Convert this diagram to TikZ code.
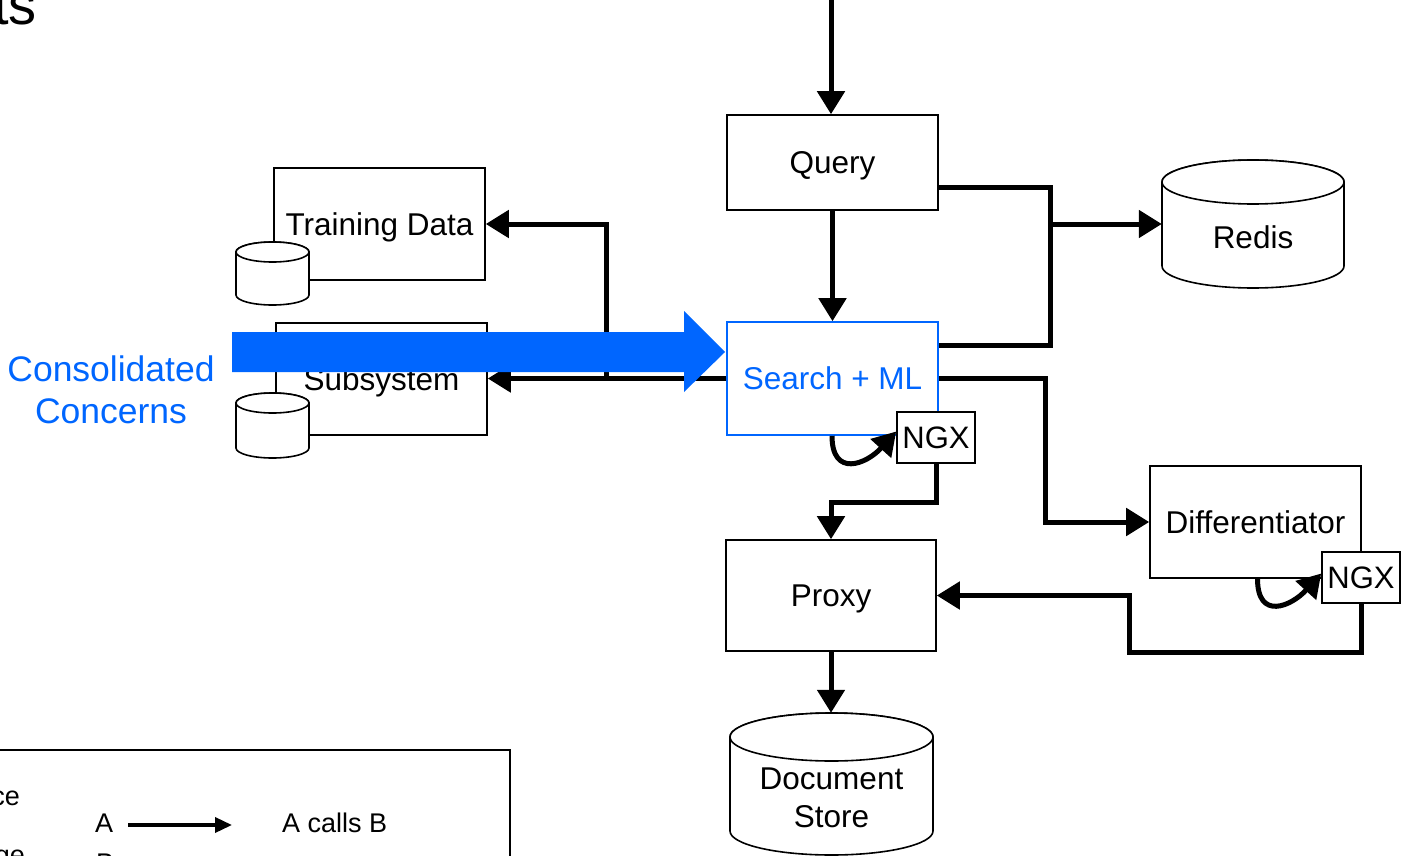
\documentclass[tikz,border=0pt]{standalone}
\usepackage{fontspec}
\setmainfont{Liberation Sans}
\usetikzlibrary{arrows.meta,calc}
\definecolor{accent}{RGB}{0,102,255}
\newcommand\fsz[2]{\fontsize{#1pt}{#2pt}\selectfont}
% storage cylinder: centre x, top y, bottom y, x radius, y radius (y measured downwards)
\newcommand\storecyl[5]{%
  \filldraw[cylbody] (#1-#4,-#2-#5) -- (#1-#4,-#3+#5)
    arc[start angle=180,end angle=360,x radius=#4,y radius=#5]
    -- (#1+#4,-#2-#5)
    arc[start angle=0,end angle=180,x radius=#4,y radius=#5] -- cycle;
  \draw[cylbody] (#1,-#2-#5) ellipse[x radius=#4,y radius=#5];}

\begin{document}
\begin{tikzpicture}[x=1pt,y=1pt,
  box/.style={draw,line width=1.6pt,fill=white,inner sep=0pt,text depth=0pt,font=\fsz{31.5}{38}},
  tag/.style={box,minimum width=78pt,minimum height=51pt,font=\fsz{31}{37}},
  conn/.style={line width=5pt,-{Triangle[length=23pt,width=27pt]}},
  wire/.style={line width=5pt},
  cylbody/.style={line width=1.6pt,fill=white},
  txt/.style={inner sep=0pt,font=\fsz{31.5}{38}},
  legtxt/.style={inner sep=0pt,font=\fsz{27}{32}},
  anchorbox/.style={inner sep=0pt,draw=none}]
\useasboundingbox (0,0) rectangle (1402,-856);
\clip (0,0) rectangle (1402,-856);

% title (partly outside the page)
\node[anchor=base west,inner sep=0pt,font=\fsz{56}{62}] (ttl) at (-7,-25) {ts};

% services
\node[box,minimum width=211pt,minimum height=95pt] (query) at (832.5,-162.5) {Query};
\node[box,draw=accent,text=accent,minimum width=211pt,minimum height=113pt] (search) at (832.5,-378.5) {Search + ML};
\node[box,minimum width=211pt,minimum height=112pt] (train) at (379.5,-224) {Training Data};
\node[box,minimum width=211pt,minimum height=112pt] (subsys) at (381.5,-379) {Subsystem};
\node[box,minimum width=210pt,minimum height=111pt] (proxy) at (831,-595.5) {Proxy};
\node[box,minimum width=211pt,minimum height=112pt] (diff) at (1255.5,-522) {Differentiator};
\node[tag] (ngxa) at (936,-437.5) {NGX};
\node[tag] (ngxb) at (1361,-577.5) {NGX};

% data stores
\storecyl{1253}{160}{288}{91}{22}
\node[anchorbox,minimum width=182pt,minimum height=128pt] (redis) at (1253,-224) {};
\node[txt] (redislbl) at (1253,-237) {Redis};
\storecyl{831.5}{713}{855}{101.5}{24}
\node[anchorbox,minimum width=203pt,minimum height=142pt] (docs) at (831.5,-784) {};
\node[txt,align=center] (docslbl) at (831.5,-798) {Document\\Store};
\storecyl{272.5}{242}{305}{36.5}{10}
\storecyl{272.5}{393}{458}{36.5}{10}

% calls
\coordinate (src) at (831,0);
\draw[conn] (src) -- (src |- query.north);
\draw[conn] (query.south) -- (search.north);
\coordinate (jr) at (1050,-224);
\draw[conn] ([yshift=-24.5pt]query.east) -| (jr) -- (redis.west);
\draw[wire] ([yshift=33.5pt]search.east) -| (jr);
\draw[conn] (search.west) -- (search.west -| subsys.east);
\coordinate (jt) at (606,-378.5);
\draw[conn] (jt) |- (train.east);
\coordinate (jd) at (1045,-522);
\draw[conn] (search.east) -| (jd) -- (diff.west);
\draw[conn] ([xshift=-0.5pt]search.south) .. controls +(0,-42) and +(-30,-33) .. ([yshift=6pt]ngxa.west);
\coordinate (jp) at (831,-502);
\draw[conn] (ngxa.south) |- (jp) -- (proxy.north);
\draw[conn] (proxy.south) -- (proxy.south |- docs.north);
\draw[conn] ([xshift=2pt]diff.south) .. controls +(0,-42) and +(-30,-33) .. ([yshift=4pt]ngxb.west);
\coordinate (jx) at (1129,-652);
\draw[conn] (ngxb.south) |- (jx) |- (proxy.east);

% consolidation arrow
\fill[accent] (232,-332) -- (684,-332) -- (684,-311) -- (725,-352) -- (684,-392)
  -- (684,-372) -- (232,-372) -- cycle;
\node[text=accent,align=center,inner sep=0pt,font=\fsz{35.5}{42}] (cc) at (111,-390) {Consolidated\\Concerns};

% legend
\draw[line width=1.8pt] (-10,-750) rectangle (510,-900);
\node[legtxt,anchor=base east] (lg1) at (20,-805) {ce};
\node[legtxt,anchor=base east] (lg2) at (25,-864) {ge};
\node[legtxt,anchor=base west] (la) at (95,-832) {A};
\node[legtxt,anchor=base west] (lb) at (96,-872) {B};
\coordinate (ls) at (128,-825);
\coordinate (le) at (232,-825);
\draw[line width=3.5pt,-{Triangle[length=17pt,width=15pt]}] (ls) -- (le);
\node[legtxt,anchor=base west] (lc) at (282,-832) {A calls B};
\end{tikzpicture}
\end{document}
